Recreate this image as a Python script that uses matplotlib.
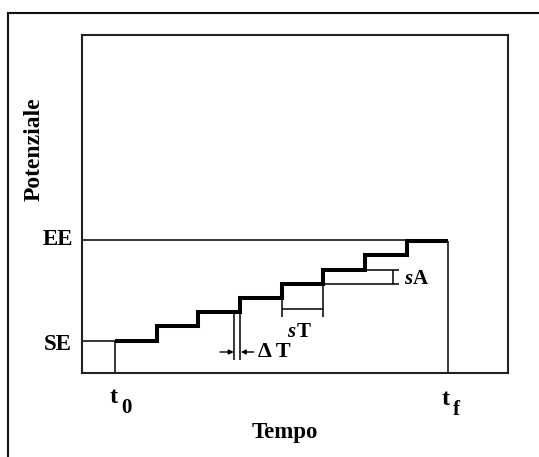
import matplotlib
matplotlib.use("Agg")
import matplotlib.pyplot as plt
from matplotlib.lines import Line2D

# ---- data (time in step units, potential in step-height units) ----
step_edges = [0, 1, 2, 3, 4, 5, 6, 7, 8]          # t0 ... tf
step_levels = [0, 1, 2, 3, 4, 5, 6, 7]            # SE ... last step
SE = 0.0
EE = 7.1
delta_T = 0.15
x_tick_labels = ["t", "t"]
x_tick_subs = ["0", "f"]
y_tick_labels = ["SE", "EE"]

W, H = 539, 457
fig = plt.figure(figsize=(W / 100, H / 100), dpi=100)
FONT = "Liberation Serif"

def fx(px):
    return px / W

def fy(py):
    return 1 - py / H

ax = fig.add_axes([fx(81.7), fy(373.3), (508.3 - 81.7) / W, (373.3 - 35) / H])
ax.set_xlim(-0.799, 9.441)
ax.set_ylim(-2.311, 21.53)
ax.set_xticks([])
ax.set_yticks([])
for s in ax.spines.values():
    s.set_linewidth(1.5)
    s.set_color("#222222")

thin = dict(color="black", lw=1.1, solid_capstyle="butt")
x0, x1 = ax.get_xlim()
y0, y1 = ax.get_ylim()
t0, tf = step_edges[0], step_edges[-1]

# reference lines
ax.plot([x0, tf], [EE, EE], **thin)
ax.plot([x0, t0], [SE, SE], **thin)
ax.plot([t0, t0], [y0, SE], **thin)
ax.plot([tf, tf], [y0, step_levels[-1]], **thin)

# staircase
ax.plot(step_edges, step_levels + [step_levels[-1]], drawstyle="steps-post",
        color="black", lw=2.9, solid_joinstyle="miter", solid_capstyle="butt")

# delta T marker
k = 3
yb = -1.37
ax.plot([step_edges[k] - delta_T] * 2, [step_levels[k - 1], yb], **thin)
ax.plot([step_edges[k]] * 2, [step_levels[k - 1], yb], **thin)
ya = -0.81
arr = dict(arrowstyle="-|>", color="black", lw=1.0, shrinkA=0, shrinkB=0,
           mutation_scale=7)
ax.annotate("", xy=(step_edges[k] - delta_T, ya), xytext=(2.52, ya), arrowprops=arr)
ax.annotate("", xy=(step_edges[k] + 0.02, ya), xytext=(3.33, ya), arrowprops=arr)
ax.text(3.43, ya, "Δ T", fontfamily=FONT, fontweight="bold", fontsize=16,
        ha="left", va="center")

# sT marker
ys_bot, ys_bar = 1.68, 2.2
ax.plot([4, 4], [step_levels[3], ys_bot], **thin)
ax.plot([5, 5], [step_levels[4], ys_bot], **thin)
ax.plot([4, 5], [ys_bar, ys_bar], **thin)
sT = ax.text(4.12, 0.25, "s", fontfamily=FONT, fontweight="bold", fontstyle="italic",
             fontsize=15, ha="left", va="baseline")
ax.annotate("T", xy=(1, 0), xycoords=sT, xytext=(1, 0), textcoords="offset points",
            fontfamily=FONT, fontweight="bold", fontsize=15, ha="left", va="bottom")

# sA marker
xe = 6.81
xb = 6.68
ax.plot([5, xe], [step_levels[4], step_levels[4]], **thin)
ax.plot([6, xe], [step_levels[5], step_levels[5]], **thin)
ax.plot([xb, xb], [step_levels[4], step_levels[5]], **thin)
sA = ax.text(6.93, 4.0, "s", fontfamily=FONT, fontweight="bold", fontstyle="italic",
             fontsize=15, ha="left", va="baseline")
ax.annotate("A", xy=(1, 0), xycoords=sA, xytext=(1, 0), textcoords="offset points",
            fontfamily=FONT, fontweight="bold", fontsize=15, ha="left", va="bottom")

# y labels (SE / EE)
fig.text(fx(72.7), fy(245), y_tick_labels[1], fontfamily=FONT, fontweight="bold",
         fontsize=16.5, ha="right", va="baseline")
fig.text(fx(71.7), fy(350), y_tick_labels[0], fontfamily=FONT, fontweight="bold",
         fontsize=16.5, ha="right", va="baseline")

# x labels t0 / tf
for lab, sub, xl, yb_t, ys in [(x_tick_labels[0], x_tick_subs[0], 110, 403, 413),
                               (x_tick_labels[1], x_tick_subs[1], 441.7, 405, 415)]:
    fig.text(fx(xl), fy(yb_t), lab, fontfamily=FONT, fontweight="bold",
             fontsize=17.5, ha="left", va="baseline")
    fig.text(fx(xl + 11.5), fy(ys), sub, fontfamily=FONT, fontweight="bold",
             fontsize=15, ha="left", va="baseline")

# axis titles
fig.text(fx(285), fy(438), "Tempo", fontfamily=FONT, fontweight="bold",
         fontsize=16.5, ha="center", va="baseline")
fig.text(fx(34), fy(149), "Potenziale", fontfamily=FONT, fontweight="bold",
         fontsize=17, ha="center", va="center", rotation=90)

# outer frame (left and top edges)
fig.add_artist(Line2D([fx(8), fx(8)], [fy(12.5), 0], color="#111111", lw=1.5,
                      transform=fig.transFigure))
fig.add_artist(Line2D([fx(8), 1], [fy(12.5), fy(12.5)], color="#111111", lw=1.5,
                      transform=fig.transFigure))

fig.savefig("out.png", dpi=100)
